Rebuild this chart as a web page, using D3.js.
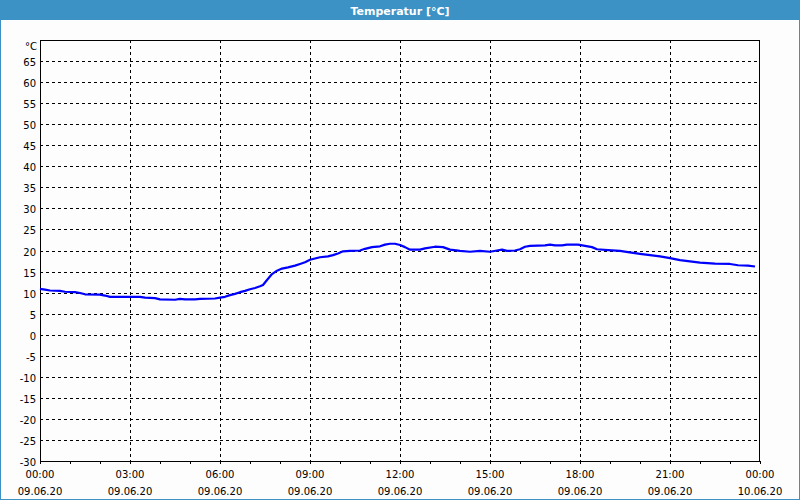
<!DOCTYPE html>
<html>
<head>
<meta charset="utf-8">
<script src="https://cdn.jsdelivr.net/npm/d3@7"></script>
<style>
html,body{margin:0;padding:0;background:#fcfdfc;}
svg{display:block;}
</style>
</head>
<body>
<svg id="chart" width="800" height="500"></svg>
<script>
const title = "Temperatur [°C]";
const unitLabel = "°C";
// minutes after 09.06.20 00:00
const minutes = [0,10,20,40,50,70,80,90,120,130,140,200,210,230,240,270,280,290,310,320,350,360,370,380,390,400,410,420,430,440,446,454,464,474,484,496,510,520,530,540,550,560,576,586,596,606,620,640,650,664,680,690,700,710,720,730,740,760,770,790,806,820,840,860,880,900,914,924,934,950,960,970,980,1010,1020,1030,1044,1054,1076,1090,1104,1114,1136,1160,1176,1200,1220,1240,1260,1280,1300,1320,1350,1380,1396,1416,1430];
const temps = [10.9,10.7,10.5,10.4,10.2,10.1,9.9,9.6,9.5,9.3,9.0,9.0,8.8,8.7,8.4,8.3,8.5,8.4,8.4,8.5,8.6,8.8,9.0,9.4,9.7,10.1,10.4,10.8,11.1,11.5,11.8,13.0,14.4,15.2,15.7,16.0,16.4,16.8,17.2,17.8,18.1,18.4,18.6,18.9,19.3,19.8,19.9,20.0,20.4,20.8,21.0,21.4,21.6,21.6,21.3,20.8,20.2,20.2,20.5,20.9,20.8,20.2,19.9,19.7,19.9,19.7,20.0,20.2,19.9,20.0,20.3,20.9,21.1,21.2,21.4,21.2,21.2,21.4,21.4,21.1,20.8,20.3,20.1,19.9,19.6,19.2,18.9,18.6,18.2,17.7,17.4,17.1,16.9,16.8,16.5,16.4,16.2];
const yTicks = [-30,-25,-20,-15,-10,-5,0,5,10,15,20,25,30,35,40,45,50,55,60,65];
const xTickHours = [0,3,6,9,12,15,18,21,24];
const xTimeLabels = ["00:00","03:00","06:00","09:00","12:00","15:00","18:00","21:00","00:00"];
const xDateLabels = ["09.06.20","09.06.20","09.06.20","09.06.20","09.06.20","09.06.20","09.06.20","09.06.20","10.06.20"];
const minorHours = d3.range(0,25);

const svg = d3.select("#chart");
const W = 800, H = 500;
const blue = "#3c92c4";
const font = "'DejaVu Sans', Verdana, sans-serif";

// frame
svg.append("rect").attr("x",0.5).attr("y",0.5).attr("width",W-1).attr("height",H-1)
  .attr("fill","#fcfdfc").attr("stroke",blue).attr("stroke-width",1);
svg.append("rect").attr("x",0).attr("y",0).attr("width",W).attr("height",20).attr("fill",blue);
svg.append("text").attr("x",W/2).attr("y",14.5).attr("text-anchor","middle")
  .attr("fill","#fff").attr("font-family",font).attr("font-weight","bold").attr("font-size","11px")
  .text(title);

const L = 40, R = 760, T = 40, B = 461;
const x = d3.scaleLinear().domain([0,24*60]).range([L,R]);
const y = d3.scaleLinear().domain([-30,70]).range([B,T]);

const g = svg.append("g");
// horizontal grid
g.selectAll("line.hg").data(yTicks.filter(v=>v>-30)).enter().append("line")
  .attr("x1",L).attr("x2",R).attr("y1",d=>Math.round(y(d))+0.5).attr("y2",d=>Math.round(y(d))+0.5)
  .attr("stroke","#000").attr("stroke-width",1).attr("stroke-dasharray","3,3");
// vertical grid
g.selectAll("line.vg").data(xTickHours.filter(h=>h>0&&h<24)).enter().append("line")
  .attr("x1",d=>Math.round(x(d*60))+0.5).attr("x2",d=>Math.round(x(d*60))+0.5).attr("y1",T).attr("y2",B)
  .attr("stroke","#000").attr("stroke-width",1).attr("stroke-dasharray","3,3");
// minor ticks
g.selectAll("line.mt").data(minorHours).enter().append("line")
  .attr("x1",d=>Math.round(x(d*60))+0.5).attr("x2",d=>Math.round(x(d*60))+0.5).attr("y1",B).attr("y2",B+3)
  .attr("stroke","#000").attr("stroke-width",1);
// plot border
g.append("rect").attr("x",L+0.5).attr("y",T+0.5).attr("width",R-L-1).attr("height",B-T)
  .attr("fill","none").attr("stroke","#000").attr("stroke-width",1);

// y labels
g.selectAll("text.yl").data(yTicks).enter().append("text")
  .attr("x",36).attr("y",d=>y(d)+5).attr("text-anchor","end")
  .attr("font-family",font).attr("font-size","10px").attr("fill","#000").text(d=>d);
g.append("text").attr("x",37).attr("y",50).attr("text-anchor","end")
  .attr("font-family",font).attr("font-size","10px").attr("fill","#000").text(unitLabel);

// x labels
xTickHours.forEach((h,i)=>{
  g.append("text").attr("x",x(h*60)).attr("y",478).attr("text-anchor","middle")
    .attr("font-family",font).attr("font-size","10px").attr("fill","#000").text(xTimeLabels[i]);
  g.append("text").attr("x",x(h*60)).attr("y",495).attr("text-anchor","middle")
    .attr("font-family",font).attr("font-size","10px").attr("fill","#000").text(xDateLabels[i]);
});

// data line
const data = minutes.map((m,i)=>({m, v:temps[i]}));
g.append("path").datum(data)
  .attr("fill","none").attr("stroke","#0000ff").attr("stroke-width",2.2)
  .attr("stroke-linejoin","round")
  .attr("d", d3.line().x(d=>x(d.m)).y(d=>y(d.v)));
</script>
</body>
</html>
